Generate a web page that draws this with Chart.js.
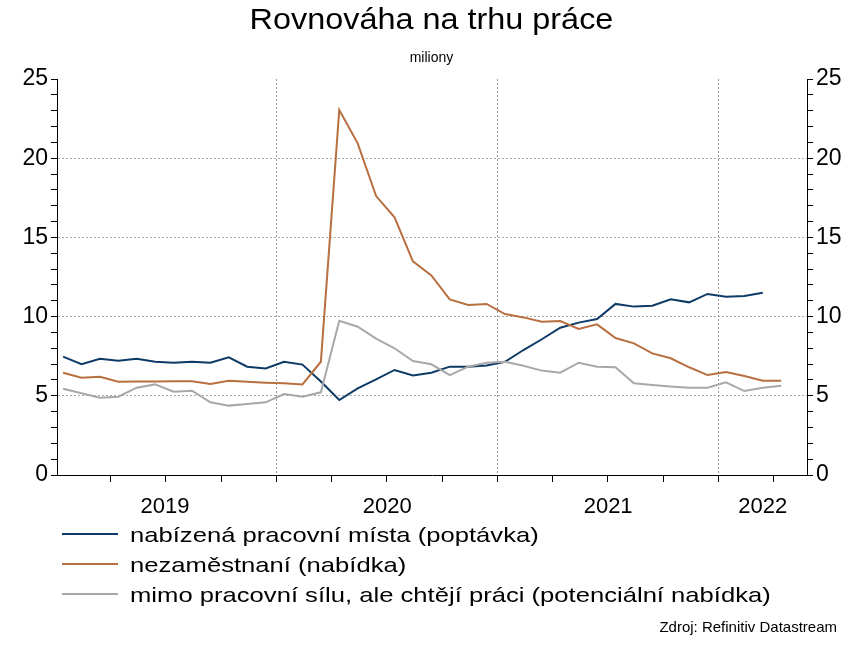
<!DOCTYPE html>
<html><head><meta charset="utf-8">
<script src="https://cdn.jsdelivr.net/npm/chart.js@4/dist/chart.umd.min.js"></script>
<style>
body{margin:0;background:#fff;font-family:"Liberation Sans",Arial,sans-serif;}
#wrap{position:relative;width:863px;height:646px;}
canvas{position:absolute;left:0;top:0;}
.t{position:absolute;left:0;width:863px;text-align:center;color:#000;}
.lg{position:absolute;left:62px;font-size:21px;color:#000;white-space:nowrap;}
.lg span{display:inline-block;width:56px;height:2px;vertical-align:middle;margin-right:12px;position:relative;top:-2px;}
.lg b{font-weight:normal;display:inline-block;transform:scaleX(1.22);transform-origin:left center;}
</style></head><body>
<div id="wrap">
<canvas id="c" width="863" height="646"></canvas>
<div class="t" style="top:2px;font-size:30px;"><span style="display:inline-block;transform:scaleX(1.08)">Rovnováha na trhu práce</span></div>
<div class="t" style="top:49px;font-size:14px;">miliony</div>
<div class="lg" style="top:523px;"><span style="background:#0d3a66"></span><b>nabízená pracovní místa (poptávka)</b></div>
<div class="lg" style="top:553px;"><span style="background:#b87040"></span><b>nezaměstnaní (nabídka)</b></div>
<div class="lg" style="top:583px;"><span style="background:#a8a8a8"></span><b>mimo pracovní sílu, ale chtějí práci (potenciální nabídka)</b></div>
<div style="position:absolute;right:26px;top:618px;font-size:15px;">Zdroj: Refinitiv Datastream</div>
</div>
<script>
const yearLabels=["2019","2020","2021","2022"];
const yearLabelPos=[5.54,17.6,29.6,38.0];
const yearBoundaries=[11.58,23.58,35.58];
const demand=[7.47,7.0,7.34,7.22,7.34,7.15,7.09,7.15,7.09,7.43,6.84,6.73,7.15,6.97,5.9,4.73,5.47,6.04,6.63,6.29,6.46,6.84,6.84,6.92,7.15,7.89,8.57,9.3,9.62,9.85,10.8,10.63,10.69,11.09,10.9,11.43,11.26,11.3,11.51];
const unemployed=[6.46,6.14,6.2,5.89,5.9,5.9,5.92,5.92,5.74,5.95,5.89,5.83,5.79,5.72,7.15,23.04,20.94,17.61,16.27,13.49,12.6,11.09,10.73,10.8,10.16,9.95,9.68,9.72,9.22,9.51,8.65,8.31,7.68,7.37,6.8,6.31,6.5,6.25,5.95,5.95];
const outsideLF=[5.45,5.16,4.88,4.94,5.51,5.72,5.26,5.32,4.59,4.38,4.48,4.59,5.11,4.94,5.22,9.74,9.36,8.61,8.0,7.2,6.99,6.31,6.84,7.09,7.15,6.9,6.59,6.46,7.09,6.84,6.8,5.79,5.68,5.58,5.51,5.51,5.85,5.3,5.51,5.64];
const pts=a=>a.map((v,i)=>({x:i,y:v}));
const ds=(d,c)=>({data:pts(d),borderColor:c,borderWidth:2,pointRadius:0,tension:0,fill:false});
const yAx=(pos)=>({position:pos,min:0,max:25,afterFit:s=>{s.width=pos==='left'?57:56;},
  afterBuildTicks:s=>{s.ticks=[];for(let v=0;v<=25;v++)s.ticks.push({value:v});},
  ticks:{autoSkip:false,color:'#000',font:{size:23,family:'Liberation Sans'},padding:3,callback:v=>v%5===0?String(v):''},
  grid:{drawOnChartArea:pos==='left',color:c=>(c.tick&&c.tick.value%5===0&&c.tick.value>0&&c.tick.value<25)?'#aaa':'rgba(0,0,0,0)',lineWidth:1,tickColor:'#000',tickLength:6},
  border:{display:true,color:'#000',width:1,dash:[2,2]}});
new Chart(document.getElementById('c'),{type:'line',
 data:{datasets:[ds(outsideLF,'#a8a8a8'),ds(unemployed,'#b87040'),ds(demand,'#0d3a66')]},
 options:{responsive:false,animation:false,
  layout:{padding:{top:79,bottom:130,left:0,right:0}},
  plugins:{legend:{display:false},tooltip:{enabled:false}},
  scales:{
   x:{type:'linear',position:'bottom',min:-0.33,max:40.4,afterFit:s=>{s.height=8;},
     afterBuildTicks:s=>{s.ticks=[];for(let v=2.58;v<40.4;v+=3)s.ticks.push({value:v});},
     ticks:{display:false},
     grid:{color:c=>(c.tick&&yearBoundaries.some(b=>Math.abs(b-c.tick.value)<0.05))?'#999':'rgba(0,0,0,0)',tickColor:'#000',tickLength:7},
     border:{color:'#000',width:1,dash:[2,2]}},
   x2:{type:'linear',position:'bottom',min:-0.33,max:40.4,afterFit:s=>{s.height=33;},
     afterBuildTicks:s=>{s.ticks=yearLabelPos.map(v=>({value:v}));},
     ticks:{autoSkip:false,maxRotation:0,color:'#000',font:{size:22,family:'Liberation Sans'},padding:3,callback:(v,i)=>yearLabels[i]},
     grid:{display:false},border:{display:false}},
   y:yAx('left'),y2:yAx('right')
  }}});
</script></body></html>
